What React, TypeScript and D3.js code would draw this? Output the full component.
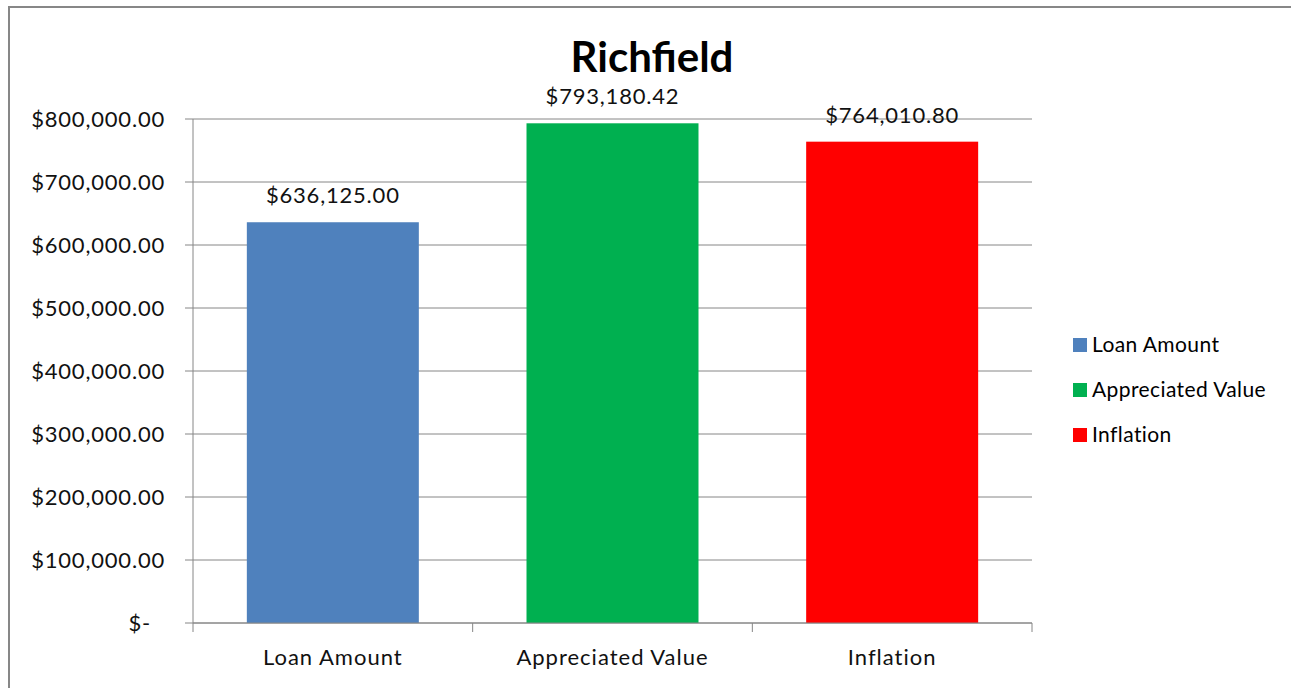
import React from "react";
import { scaleBand, scaleLinear, format } from "d3";

const categories = ["Loan Amount", "Appreciated Value", "Inflation"];
const values = [636125.0, 793180.42, 764010.8];
const colors = ["#4F81BD", "#00B050", "#FF0000"];
const yTicks = [0, 100000, 200000, 300000, 400000, 500000, 600000, 700000, 800000];
const title = "Richfield";

const W = 1291;
const H = 688;
const plot = { left: 193, right: 1032, top: 119, bottom: 623 };
const font = "Lato, 'Open Sans', sans-serif";
const money = format("$,.2f");

const App = () => {
  const x = scaleBand<string>()
    .domain(categories)
    .range([plot.left, plot.right])
    .paddingInner(0.385)
    .paddingOuter(0.1925);
  const y = scaleLinear().domain([0, 800000]).range([plot.bottom, plot.top]);
  const step = (plot.right - plot.left) / categories.length;

  return (
    <svg width={W} height={H} style={{ position: "absolute", left: 0, top: 0 }}>
      <rect x={0} y={0} width={W} height={H} fill="#fff" />
      <rect x={9} y={7} width={W + 20} height={H + 20} fill="none" stroke="#878787" strokeWidth={2} />

      <text x={652} y={72} textAnchor="middle" fontFamily={font} fontWeight="bold" fontSize={42} fill="#000">
        {title}
      </text>

      {/* gridlines + y ticks */}
      {yTicks.map((t) => (
        <g key={t}>
          <line x1={plot.left - 8} x2={plot.right} y1={y(t)} y2={y(t)} stroke="#868686" strokeWidth={1} />
          <text
            x={t === 0 ? 151 : 165}
            y={y(t)}
            dy="0.35em"
            textAnchor="end"
            fontFamily={font}
            fontSize={22}
            letterSpacing={0.8}
            fill="#111"
          >
            {t === 0 ? "$-" : money(t)}
          </text>
        </g>
      ))}
      <line x1={plot.left} x2={plot.left} y1={plot.top} y2={plot.bottom} stroke="#868686" />

      {/* bars */}
      {categories.map((c, i) => (
        <g key={c}>
          <rect
            x={x(c)}
            y={y(values[i])}
            width={x.bandwidth()}
            height={y(0) - y(values[i])}
            fill={colors[i]}
          />
          <text
            x={(x(c) as number) + x.bandwidth() / 2}
            y={y(values[i]) - 19}
            textAnchor="middle"
            fontFamily={font}
            fontSize={22}
            letterSpacing={0.8}
            fill="#111"
          >
            {money(values[i])}
          </text>
          <text
            x={(x(c) as number) + x.bandwidth() / 2}
            y={665}
            textAnchor="middle"
            fontFamily={font}
            fontSize={22}
            letterSpacing={1}
            fill="#111"
          >
            {c}
          </text>
        </g>
      ))}

      {/* x axis */}
      <line x1={plot.left} x2={plot.right} y1={plot.bottom} y2={plot.bottom} stroke="#868686" />
      {[0, 1, 2, 3].map((k) => (
        <line
          key={k}
          x1={plot.left + k * step}
          x2={plot.left + k * step}
          y1={plot.bottom}
          y2={plot.bottom + 9}
          stroke="#868686"
        />
      ))}

      {/* legend */}
      {categories.map((c, i) => (
        <g key={c} transform={`translate(1073, ${345 + i * 45})`}>
          <rect x={0} y={-7} width={14} height={14} fill={colors[i]} />
          <text x={19} y={0} dy="0.35em" fontFamily={font} fontSize={21} letterSpacing={0.4} fill="#000">
            {c}
          </text>
        </g>
      ))}
    </svg>
  );
};

export default App;
